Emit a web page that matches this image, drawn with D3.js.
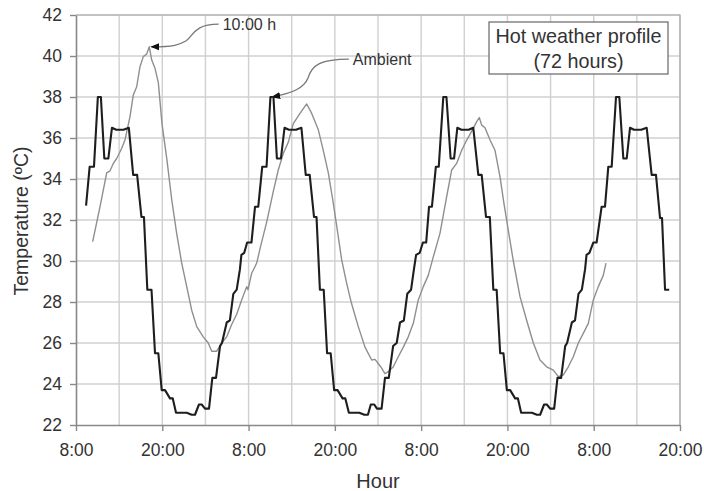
<!DOCTYPE html>
<html><head><meta charset="utf-8">
<script src="https://cdn.jsdelivr.net/npm/d3@7"></script>
<style>
body{margin:0;background:#fff}
svg{display:block}
text{font-family:"Liberation Sans",Arial,Helvetica,sans-serif;fill:#333}
</style>
</head><body>
<svg id="chart" width="704" height="491"></svg>
<script>
// ---------- DATA (hours since 8:00 of day 1, temperature ºC) ----------
const xTickHours  = [0, 12, 24, 36, 48, 60, 72, 84];
const xTickLabels = ["8:00","20:00","8:00","20:00","8:00","20:00","8:00","20:00"];
const yTicks      = [22, 24, 26, 28, 30, 32, 34, 36, 38, 40, 42];
const xGridHours  = [6, 12, 18, 24, 30, 36, 42, 48, 54, 60, 66, 72, 78, 84];

// Stepped profile (black line)
const profileDay1 = [[1.4,32.7],[1.9,34.6],[2.5,34.6],[3.04,38.0],[3.46,38.0],[3.94,35.0],[4.5,35.0],[5.0,36.5],[5.6,36.4],[6.6,36.4],[7.35,36.5],[7.95,34.2],[8.5,34.2],[9.1,32.15],[9.45,32.15],[9.92,28.6],[10.5,28.6],[10.99,25.5],[11.45,25.5],[11.92,23.7],[12.38,23.7],[13.07,23.3],[13.45,23.3],[13.91,22.6],[15.4,22.6],[16.09,22.5],[16.55,22.5],[17.1,23.0],[17.48,23.0],[17.94,22.8],[18.5,22.8],[18.96,24.3],[19.47,24.3],[20.03,25.85],[20.3,26.0],[20.96,27.0],[21.4,27.1],[21.88,28.4],[22.35,28.6],[22.8,29.6],[23.0,30.3],[23.4,30.4],[23.8,30.9]];
const profileDay2 = [[24.4,30.9],[24.9,32.65],[25.35,32.65],[25.9,34.6],[26.5,34.6],[27.04,38.0],[27.46,38.0],[27.94,35.0],[28.5,35.0],[29.0,36.5],[29.6,36.4],[30.6,36.4],[31.35,36.5],[31.95,34.2],[32.5,34.2],[33.1,32.15],[33.45,32.15],[33.92,28.6],[34.45,28.6],[34.92,25.5],[35.42,25.5],[35.9,23.7],[36.38,23.7],[37.07,23.3],[37.45,23.3],[37.95,22.6],[39.4,22.6],[40.1,22.5],[40.6,22.5],[41.0,23.0],[41.48,23.0],[41.85,22.8],[42.5,22.8],[42.97,24.3],[43.5,24.3],[44.1,25.85],[44.6,26.0],[45.06,27.0],[45.6,27.1],[46.07,28.4],[46.6,28.6],[47.0,29.6],[47.3,30.3],[47.8,30.4],[48.25,30.9]];
const profileDay3 = [[48.7,30.9],[49.1,32.65],[49.5,32.65],[50.05,34.6],[50.45,34.6],[51.08,38.0],[51.52,38.0],[52.1,35.0],[52.58,35.0],[53.03,36.5],[53.6,36.4],[54.6,36.4],[55.25,36.5],[55.95,34.2],[56.42,34.2],[57.02,32.15],[57.55,32.15],[58.04,28.6],[58.5,28.6],[58.99,25.5],[59.45,25.5],[59.92,23.7],[60.38,23.7],[61.07,23.3],[61.45,23.3],[61.91,22.6],[63.4,22.6],[64.09,22.5],[64.55,22.5],[65.1,23.0],[65.48,23.0],[65.94,22.8],[66.5,22.8],[66.96,24.3],[67.47,24.3],[68.03,25.85],[68.3,26.0],[68.96,27.0],[69.4,27.1],[69.88,28.4],[70.35,28.6],[70.8,29.6],[71.0,30.3],[71.4,30.4],[71.94,30.9]];
const profileDay4 = [[72.4,30.9],[73.1,32.65],[73.57,32.65],[74.03,34.6],[74.5,34.6],[75.1,38.0],[75.56,38.0],[76.12,35.0],[76.59,35.0],[77.05,36.5],[77.6,36.4],[78.6,36.4],[79.37,36.5],[80.06,34.2],[80.66,34.2],[81.22,32.1],[81.5,32.1],[81.92,28.6],[82.5,28.6]];

// Ambient (grey line)
const ambientDay1 = [[2.32,30.94],[3.34,32.65],[4.27,34.3],[4.73,34.4],[5.19,34.76],[5.66,35.0],[6.36,35.5],[6.81,35.9],[7.51,37.04],[7.97,38.1],[8.44,38.5],[8.9,39.48],[9.36,39.97],[9.83,40.1],[10.19,40.45],[10.53,39.8],[10.99,39.4],[11.45,38.7],[11.96,36.7],[12.66,34.9],[13.31,33.0],[14.0,31.35],[14.7,29.9],[15.4,28.75],[16.09,27.6],[16.79,26.8],[17.7,26.3],[18.4,26.0],[18.87,25.6],[19.57,25.6],[20.26,26.0],[20.96,26.3],[21.65,26.9],[22.35,27.4],[23.04,28.1],[23.74,28.75],[23.92,28.6]];
const ambientDay2 = [[24.43,29.4],[25.13,29.9],[25.73,30.8],[26.52,31.9],[27.44,33.4],[28.13,34.44],[28.83,35.25],[29.53,35.8],[30.22,36.7],[31.15,37.2],[32.08,37.66],[32.78,37.2],[33.7,36.4],[34.39,35.4],[35.09,34.3],[35.7,33.0],[36.26,31.7],[36.95,30.05],[37.65,28.9],[38.34,27.9],[39.26,26.8],[40.19,25.8],[41.12,25.17],[41.58,25.2],[42.04,25.0],[42.51,24.77],[42.97,24.5],[43.43,24.6],[44.13,24.84],[44.82,25.33],[45.52,25.8],[46.21,26.3],[46.91,26.96],[47.6,28.1]];
const ambientDay3 = [[48.3,28.75],[48.99,29.3],[49.69,30.2],[50.62,31.35],[51.55,33.14],[52.25,34.44],[52.94,34.76],[53.64,35.4],[54.34,35.9],[55.25,36.47],[55.73,36.8],[56.09,37.0],[56.42,36.63],[56.88,36.5],[57.58,35.9],[58.27,35.4],[58.97,34.1],[59.52,32.8],[60.12,31.5],[60.82,30.0],[61.75,28.26],[62.68,27.1],[63.6,26.0],[64.53,25.17],[65.46,24.84],[66.38,24.68],[67.08,24.36],[67.77,24.44],[68.47,24.84],[69.16,25.33],[69.86,26.0],[70.55,26.47],[71.25,26.96],[71.94,28.1],[72.64,28.75],[73.33,29.3],[73.71,29.9]];

// Annotations (anchored in data units)
const annotations = [
  {label:"10:00 h", tip:[10.19,40.45], text:[20.4,41.55]},
  {label:"Ambient", tip:[27.12,38.0],  text:[38.5,39.85]}
];
const boxLines = ["Hot weather profile","(72 hours)"];
const yTitle = "Temperature (ºC)";
const xTitle = "Hour";

// ---------- CHART ----------
const svg = d3.select("#chart");
const L=76, R=680, T=15, B=425;
const x = d3.scaleLinear().domain([0,84]).range([L,R]);
const y = d3.scaleLinear().domain([22,42]).range([B,T]);

// grid
const g = svg.append("g");
g.selectAll("line.h").data(yTicks.slice(1)).join("line")
  .attr("x1",L).attr("x2",R).attr("y1",d=>y(d)).attr("y2",d=>y(d))
  .attr("stroke","#d0d0d0").attr("stroke-width",1.4);
g.selectAll("line.v").data(xGridHours).join("line")
  .attr("y1",T).attr("y2",B).attr("x1",d=>x(d)).attr("x2",d=>x(d))
  .attr("stroke","#d0d0d0").attr("stroke-width",1.4);
// frame top/right
svg.append("path").attr("d",`M${L},${T}H${R}V${B}`).attr("fill","none")
  .attr("stroke","#a8a8a8").attr("stroke-width",1.2);

// axes
const yAxis = svg.append("g").attr("transform",`translate(${L},0)`)
  .call(d3.axisLeft(y).tickValues(yTicks).tickSize(6).tickPadding(8).tickSizeOuter(0));
const xAxis = svg.append("g").attr("transform",`translate(0,${B})`)
  .call(d3.axisBottom(x).tickValues(xTickHours).tickSize(6).tickPadding(13).tickSizeOuter(0)
    .tickFormat((d,i)=>xTickLabels[i]));
[yAxis,xAxis].forEach(a=>{
  a.select(".domain").attr("stroke","#888").attr("stroke-width",1.6);
  a.selectAll(".tick line").attr("stroke","#888").attr("stroke-width",1.4);
  a.selectAll(".tick text").attr("fill","#333").style("font-size","17.5px")
    .style("font-family",'"Liberation Sans",Arial,sans-serif');
});

// lines
const line = d3.line().x(d=>x(d[0])).y(d=>y(d[1]));
const ambient = ambientDay1.concat(ambientDay2, ambientDay3);
const profile = profileDay1.concat(profileDay2, profileDay3, profileDay4);
svg.append("path").attr("d",line(ambient)).attr("fill","none")
  .attr("stroke","#8f8f8f").attr("stroke-width",1.4).attr("stroke-linejoin","round");
svg.append("path").attr("d",line(profile)).attr("fill","none")
  .attr("stroke","#1e1e1e").attr("stroke-width",2.1).attr("stroke-linejoin","round");

// arrow marker
svg.append("defs").append("marker").attr("id","arr")
  .attr("viewBox","0 0 10 10").attr("refX",9).attr("refY",5)
  .attr("markerWidth",7).attr("markerHeight",7).attr("orient","auto-start-reverse")
  .append("path").attr("d","M0,1L10,5L0,9z").attr("fill","#111");

// annotation leaders
annotations.forEach((a,i)=>{
  const tx=x(a.tip[0]), ty=y(a.tip[1]);
  const ex=x(a.text[0])-4, ey=y(a.text[1]);
  let d;
  if(i===0){
    d=`M${tx+2},${ty} C${tx+25},${ty} ${tx+30},${ty-2} ${tx+37},${ty-6} C${tx+44},${ty-11} ${ex-25},${ey} ${ex},${ey}`;
  } else {
    d=`M${tx+1},${ty} C${tx+22},${ty-4} ${tx+33},${ty-9} ${tx+37},${ty-19} C${tx+41},${ty-32} ${ex-28},${ey} ${ex},${ey}`;
  }
  svg.append("path").attr("d",d).attr("fill","none").attr("stroke","#777")
    .attr("stroke-width",1.3).attr("marker-start","url(#arr)");
  svg.append("text").attr("x",x(a.text[0])).attr("y",y(a.text[1])).attr("dy","0.35em")
    .style("font-size","16px").text(a.label);
});

// title box
const bx0=489, by0=22, bx1=668, by1=74;
svg.append("rect").attr("x",bx0).attr("y",by0).attr("width",bx1-bx0).attr("height",by1-by0)
  .attr("fill","#fff").attr("stroke","#666").attr("stroke-width",1.2);
svg.selectAll("text.box").data(boxLines).join("text")
  .attr("x",(bx0+bx1)/2).attr("y",(d,i)=>36+i*25.5).attr("dy","0.35em")
  .attr("text-anchor","middle").style("font-size","19.8px").text(d=>d);

// axis titles
svg.append("text").attr("transform","translate(28,221) rotate(-90)")
  .attr("text-anchor","middle").style("font-size","19.5px").text(yTitle);
svg.append("text").attr("x",(L+R)/2).attr("y",488)
  .attr("text-anchor","middle").style("font-size","20px").text(xTitle);
</script>
</body></html>
